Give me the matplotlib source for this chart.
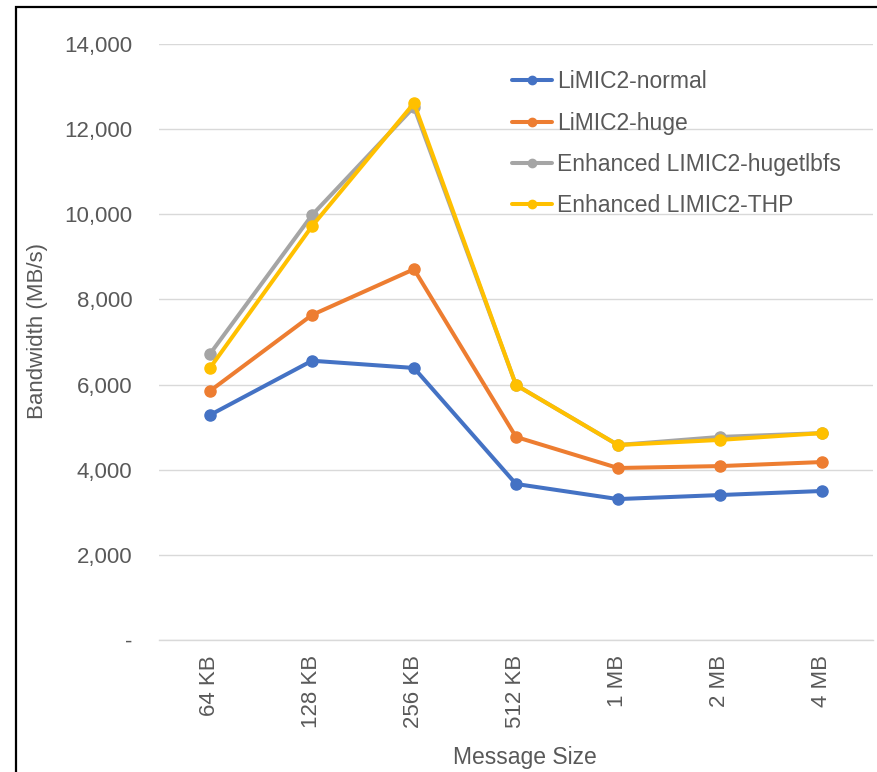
import matplotlib.pyplot as plt
from matplotlib.patches import Rectangle

plt.rcParams['font.family'] = ['Liberation Sans', 'DejaVu Sans']

sizes = ['64 KB', '128 KB', '256 KB', '512 KB', '1 MB', '2 MB', '4 MB']
limic_normal = [5285, 6560, 6390, 3665, 3310, 3405, 3500]
limic_huge = [5850, 7635, 8710, 4770, 4040, 4085, 4180]
enh_hugetlbfs = [6720, 9980, 12520, 5990, 4580, 4770, 4860]
enh_thp = [6390, 9720, 12610, 5990, 4580, 4700, 4860]

series = [
    ('LiMIC2-normal', limic_normal, '#4472C4'),
    ('LiMIC2-huge', limic_huge, '#ED7D31'),
    ('Enhanced LIMIC2-hugetlbfs', enh_hugetlbfs, '#A5A5A5'),
    ('Enhanced LIMIC2-THP', enh_thp, '#FFC000'),
]

txt = '#595959'

fig = plt.figure(figsize=(8.77, 7.72), dpi=100)
ax = fig.add_axes([0.1813, 0.171, 0.8141, 0.772])

x = range(len(sizes))
for name, vals, col in series:
    ax.plot(x, vals, color=col, lw=2.9, marker='o', ms=8, label=name,
            solid_capstyle='round')

ax.set_xlim(-0.5, len(sizes) - 0.5)
ax.set_ylim(0, 14000)
yt = list(range(0, 14001, 2000))
ax.set_yticks(yt)
ax.set_yticklabels(['-'] + [f'{v:,}' for v in yt[1:]])
ax.set_xticks(list(x))
ax.set_xticklabels(sizes, rotation=90, va='top')

ax.grid(axis='y', color='#D9D9D9', lw=1)
ax.axhline(0, color='#D9D9D9', lw=1, zorder=0.5, clip_on=False)
ax.set_axisbelow(True)
for s in ax.spines.values():
    s.set_visible(False)
ax.tick_params(length=0, labelsize=16, colors=txt)
ax.tick_params(axis='y', pad=19)
ax.tick_params(axis='x', pad=11)

ax.set_xlabel('Message Size', fontsize=16.5, color=txt)
ax.set_ylabel('Bandwidth (MB/s)', fontsize=16, color=txt)
ax.xaxis.set_label_coords(0.5126, -0.178)
ax.yaxis.set_label_coords(-0.155, 0.518)

leg = ax.legend(loc='upper left', bbox_to_anchor=(0.5838, 0.909),
                bbox_transform=fig.transFigure, frameon=False, fontsize=16.5,
                handlelength=1.75, handletextpad=0.2, labelspacing=0.8,
                borderpad=0, borderaxespad=0, markerscale=0.75)
for t in leg.get_texts():
    t.set_color(txt)

# black frame around the chart area
fig.add_artist(Rectangle((0.0182, -0.1), 1.2, 1.0903, transform=fig.transFigure,
                         fill=False, ec='black', lw=1.6, clip_on=False))

fig.savefig('out.png', dpi=100)
